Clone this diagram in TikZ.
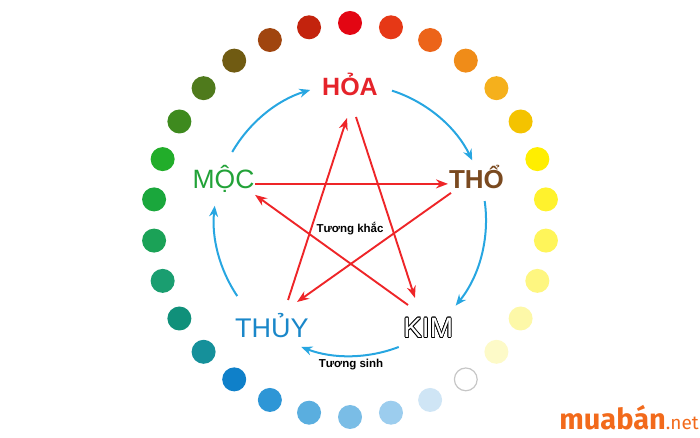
\documentclass[tikz,border=0pt]{standalone}
\usepackage{fontspec}
\setmainfont{Liberation Sans}
\newfontfamily\brandfont{Fira Sans}
\usepackage[copies]{contour}
\contourlength{0.7pt}
\usetikzlibrary{arrows.meta}

\definecolor{hoared}{HTML}{E5232A}
\definecolor{mocgreen}{HTML}{22A238}
\definecolor{thobrown}{HTML}{7A4A20}
\definecolor{thuyblue}{HTML}{1A87C9}
\definecolor{sinhblue}{HTML}{27A6E1}
\definecolor{khacred}{HTML}{EE2528}
\definecolor{muaorange}{HTML}{F26A1B}

\begin{document}
\begin{tikzpicture}[x=1pt, y=1pt,
    element/.style={inner sep=3pt, text depth=0pt},
    sinh/.style={draw=sinhblue, line width=2pt,
        -{Stealth[length=11pt, width=9pt]}},
    khac/.style={draw=khacred, line width=1.9pt,
        -{Stealth[length=12pt, width=9pt]}}]

        \useasboundingbox (0,0) rectangle (700,438);
        \coordinate (c) at (350,218);

        % Add the ring of dots
        \foreach \hex [count=\k from 0] in {E30613, E63816, EC6419, F08C18,
            F5B01C, F4C300, FFEE00, FFF22D, FFF55A, FEF680, FDF8A8, FDFAC8,
            FFFFFF, CFE5F5, 9CCDEE, 7ABDE6, 5AAEDF, 2E96D6, 0F80C9, 15909A,
            10907A, 1A9E70, 1BA257, 1AA73C, 22AD2A, 3E8A1E, 4F7A1C, 705B12,
            A0450F, C3230D} {
            \pgfmathsetmacro\ang{90-12*\k}
            \definecolor{dotcol}{HTML}{\hex}
            \fill[dotcol] ([shift={(\ang:197)}]c) circle[radius=12];
        }
        \draw[gray!45, line width=1.2pt] ([shift={(-54:197)}]c) circle[radius=11.4];

        % Add the elements
        \node[element, text height=18pt, text=hoared,
            font=\fontsize{25}{25}\selectfont\bfseries]
            (hoa) at ([shift={(90:133)}]c) {HỎA};
        \node[element, text height=18.6pt, text=thobrown,
            font=\fontsize{26}{26}\selectfont\bfseries]
            (tho) at ([shift={(18:133)}]c) {THỔ};
        \node[element, text height=20pt,
            font=\fontsize{28}{28}\selectfont]
            (kim) at ([shift={(-54:133)}]c) {\contour{black}{\textcolor{white}{KIM}}};
        \node[element, text height=19.3pt, text=thuyblue,
            font=\fontsize{27}{27}\selectfont]
            (thuy) at ([shift={(-126:133)}]c) {THỦY};
        \node[element, text height=19pt, text=mocgreen,
            font=\fontsize{26.5}{26.5}\selectfont]
            (moc) at ([shift={(162:133)}]c) {MỘC};

        \node[font=\fontsize{11.5}{11.5}\selectfont\bfseries] (khac) at (350,209) {Tương khắc};
        \node[font=\fontsize{11.5}{11.5}\selectfont\bfseries] (sinh) at (351,73) {Tương sinh};

        % Tuong sinh cycle
        \coordinate (s1) at ([shift={(72:136)}]c);
        \coordinate (s2) at ([shift={(8:136)}]c);
        \coordinate (s3) at ([shift={(-69:136)}]c);
        \coordinate (s4) at ([shift={(-146:136)}]c);
        \coordinate (s5) at ([shift={(150:136)}]c);
        \draw[sinh] (s1) arc[start angle=72, end angle=26, radius=136];
        \draw[sinh] (s2) arc[start angle=8, end angle=-39, radius=136];
        \draw[sinh] (s3) arc[start angle=-69, end angle=-111, radius=136];
        \draw[sinh] (s4) arc[start angle=-146, end angle=-186, radius=136];
        \draw[sinh] (s5) arc[start angle=150, end angle=107, radius=136];

        % Tuong khac star
        \draw[khac] ([shift={(31.5,-5)}]moc.center) -- ([shift={(-28.5,-5)}]tho.center);
        \draw[khac] ([shift={(-25.5,-14)}]tho.center) -- ([shift={(25.2,25.6)}]thuy.center);
        \draw[khac] ([shift={(16.2,27.6)}]thuy.center) -- ([shift={(-3,-31)}]hoa.center);
        \draw[khac] ([shift={(6,-30)}]hoa.center) -- ([shift={(-13.2,29.6)}]kim.center);
        \draw[khac] ([shift={(-20.2,22.6)}]kim.center) -- ([shift={(31.5,-16)}]moc.center);

        % Brand
        \node[anchor=base east, inner sep=0pt, text=muaorange] (brand) at (699,8)
            {{\brandfont\fontsize{29}{29}\selectfont\bfseries muabán}{\brandfont\fontsize{19}{19}\selectfont .net}};
\end{tikzpicture}
\end{document}
